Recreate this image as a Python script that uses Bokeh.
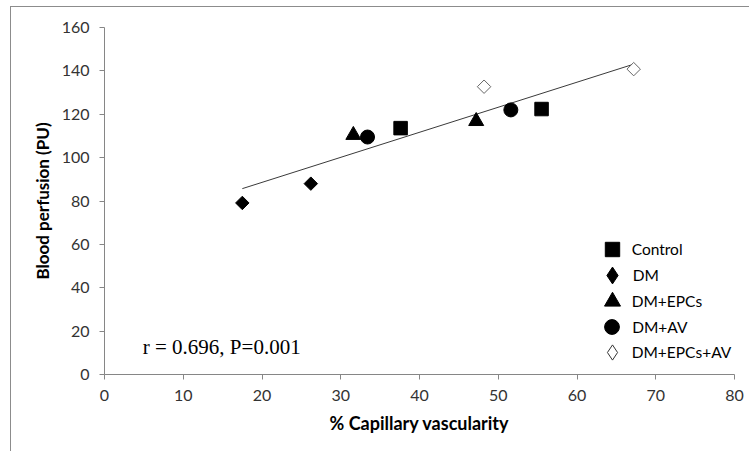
import numpy as np
from bokeh.plotting import figure
from bokeh.models import Legend, LegendItem, Label, Range1d, FixedTicker
from bokeh.embed import file_html
from bokeh.resources import INLINE

# ---- data ----
groups = ["Control", "DM", "DM+EPCs", "DM+AV", "DM+EPCs+AV"]
control_x = [37.6, 55.5]
control_y = [113.6, 122.4]
dm_x = [17.5, 26.2]
dm_y = [79.1, 88.0]
epcs_x = [31.6, 47.2]
epcs_y = [110.4, 116.8]
av_x = [33.4, 51.6]
av_y = [109.5, 122.0]
epcs_av_x = [48.2, 67.2]
epcs_av_y = [132.7, 140.8]
x_ticks = [0, 10, 20, 30, 40, 50, 60, 70, 80]
y_ticks = [0, 20, 40, 60, 80, 100, 120, 140, 160]
stat_text = "r = 0.696, P=0.001"
x_title = "% Capillary vascularity"
y_title = "Blood perfusion (PU)"

FONT = "Lato"
AXIS_GRAY = "#868686"

p = figure(width=739, height=445, x_range=Range1d(0, 80), y_range=Range1d(0, 160),
           output_backend="svg", toolbar_location=None,
           min_border_left=93, min_border_right=16, min_border_top=20, min_border_bottom=78)
p.margin = (6, 0, 0, 10)
p.styles = {"border-top": "1px solid #8c8c8c", "border-left": "1px solid #8c8c8c"}
p.grid.visible = False
p.outline_line_color = None
p.background_fill_color = "white"
p.border_fill_color = "white"

p.xaxis.ticker = FixedTicker(ticks=x_ticks)
p.yaxis.ticker = FixedTicker(ticks=y_ticks)
for ax in (p.xaxis[0], p.yaxis[0]):
    ax.axis_line_color = AXIS_GRAY
    ax.axis_line_width = 1
    ax.major_tick_line_color = AXIS_GRAY
    ax.major_tick_in = 0
    ax.major_tick_out = 5
    ax.minor_tick_line_color = None
    ax.major_label_text_font = FONT
    ax.major_label_text_font_size = "16px"
    ax.major_label_text_color = "#333333"
    ax.axis_label_text_font = FONT
    ax.axis_label_text_font_style = "bold"
    ax.axis_label_text_color = "black"
p.xaxis.axis_label_text_font_size = "18px"
p.yaxis.axis_label_text_font_size = "17px"
p.xaxis.axis_label = x_title
p.yaxis.axis_label = y_title
p.xaxis.major_label_standoff = 10
p.yaxis.major_label_standoff = 10
p.xaxis.axis_label_standoff = 8
p.yaxis.axis_label_standoff = 6

# trend line (least squares over all points)
all_x = np.array(control_x + dm_x + epcs_x + av_x + epcs_av_x)
all_y = np.array(control_y + dm_y + epcs_y + av_y + epcs_av_y)
slope, intercept = np.polyfit(all_x, all_y, 1)
tx = np.array([all_x.min(), all_x.max()])
p.line(tx, slope * tx + intercept, line_color="#3a3a3a", line_width=1)

r_ctrl = p.scatter(control_x, control_y, marker="square", size=13.5, color="black")
r_dm = p.scatter(dm_x, dm_y, marker="square", angle=np.pi / 4, size=9.5, color="black")
r_epcs = p.scatter(epcs_x, epcs_y, marker="triangle", size=15, color="black")
r_av = p.scatter(av_x, av_y, marker="circle", size=14, color="black")
r_ea = p.scatter(epcs_av_x, epcs_av_y, marker="square", angle=np.pi / 4, size=9.5,
                 fill_color="white", line_color="#666666", line_width=1)

# legend keys for the diamonds (the legend ignores marker angle): hidden renderers
k_dm = p.scatter(dm_x, dm_y, marker="diamond", color="black", visible=False)
k_ea = p.scatter(epcs_av_x, epcs_av_y, marker="diamond", fill_color="white",
                 line_color="#333333", line_width=1, visible=False)

# legend: one small legend per row so each key can have its own size
frame_left_px, frame_bottom_px = 104, 374
marker_cx = 611.7
text_x = 632.0
rows = [(r_ctrl, 248.5, 36), (k_dm, 274.5, 42), (r_epcs, 301.0, 40),
        (r_av, 326.5, 37), (k_ea, 352.0, 38)]
for (rend, cy, G), name in zip(rows, groups):
    leg = Legend(items=[LegendItem(label=name, renderers=[rend])],
                 location=(marker_cx - G / 2 - frame_left_px, frame_bottom_px - (cy + G / 2)),
                 glyph_width=G, glyph_height=G, label_height=G,
                 label_standoff=max(0, int(round(text_x - (marker_cx + G / 2)))),
                 padding=0, margin=0, border_line_color=None, background_fill_alpha=0,
                 inactive_fill_alpha=0, click_policy="none",
                 label_text_font=FONT, label_text_font_size="15.5px", label_text_color="black")
    p.add_layout(leg)

p.add_layout(Label(x=4.86, y=12.6, text=stat_text, text_font="Liberation Serif",
                   text_font_size="21px", text_baseline="alphabetic", text_color="black"))

open("out.html", "w").write(file_html(p, INLINE))
